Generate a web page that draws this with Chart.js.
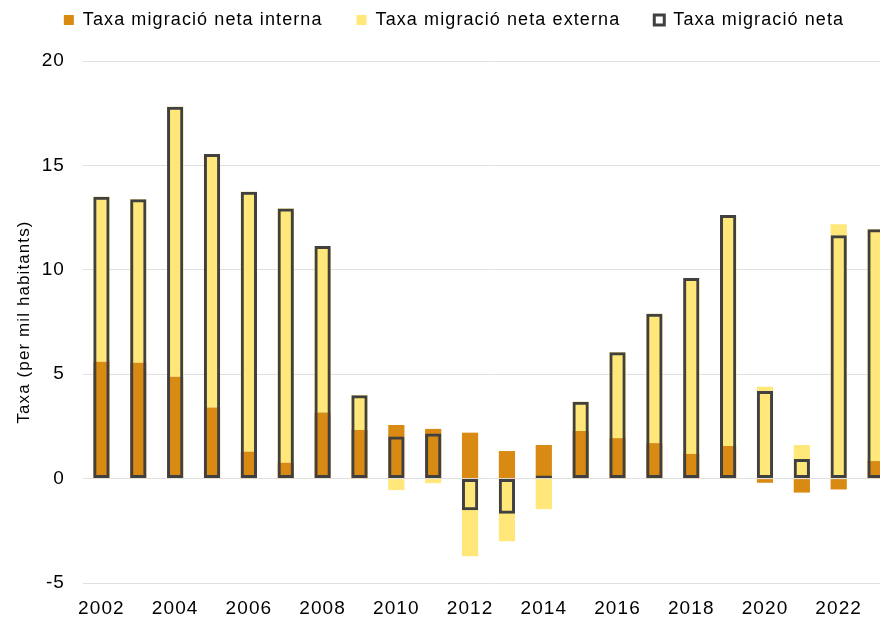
<!DOCTYPE html>
<html>
<head>
<meta charset="utf-8">
<script src="https://cdn.jsdelivr.net/npm/chart.js@4/dist/chart.umd.min.js"></script>
<style>
  html, body { margin: 0; padding: 0; background: #fff; overflow: hidden; }
  #wrap { width: 900px; height: 621px; }
</style>
</head>
<body>
<div id="wrap"><canvas id="myChart"></canvas></div>
<script>
const years = ["2002", "2003", "2004", "2005", "2006", "2007", "2008", "2009", "2010", "2011", "2012",
  "2013", "2014", "2015", "2016", "2017", "2018", "2019", "2020", "2021", "2022", "2023"];
const interna = [5.6, 5.55, 4.88, 3.41, 1.29, 0.76, 3.16, 2.33, 2.57, 2.38, 2.2,
  1.32, 1.61, 2.28, 1.94, 1.7, 1.18, 1.56, -0.2, -0.67, -0.52, 0.84];
const externa = [7.9, 7.83, 12.93, 12.14, 12.45, 12.18, 7.98, 1.66, -0.55, -0.22, -3.72,
  -3.0, -1.46, 1.4, 4.11, 6.2, 8.43, 11.06, 4.4, 1.61, 12.18, 11.1];
const neta = [13.5, 13.38, 17.81, 15.55, 13.74, 12.94, 11.14, 3.99, 2.02, 2.16, -1.52,
  -1.68, 0.15, 3.68, 6.05, 7.9, 9.61, 12.62, 4.2, 0.94, 11.66, 11.94];
const yTicks = [-5, 0, 5, 10, 15, 20];

// stack externa on interna only when both have the same sign (like Excel does)
const extBars = externa.map(function(v, i) {
  const base = Math.sign(v) === Math.sign(interna[i]) ? interna[i] : 0;
  return [base, base + v];
});

Chart.defaults.font.family = "'Liberation Sans', Arial, sans-serif";
Chart.defaults.color = "#000";

// the reference text is a bit wider than plain Arial
const spacing = {
  id: "spacing",
  beforeLayout(chart) { chart.ctx.letterSpacing = "1.1px"; },
  beforeDraw(chart) { chart.ctx.letterSpacing = "1.1px"; }
};

new Chart("myChart", {
  type: "bar",
  plugins: [spacing],
  data: {
    labels: years,
    datasets: [
      {
        label: "Taxa migració neta interna",
        data: interna,
        backgroundColor: "#D98A12",
        order: 1
      },
      {
        label: "Taxa migració neta externa",
        data: extBars,
        backgroundColor: "#FFE779",
        order: 2
      },
      {
        label: "Taxa migració neta",
        data: neta,
        backgroundColor: "rgba(0,0,0,0)",
        borderColor: "#404040",
        borderWidth: 3,
        borderSkipped: false,
        order: 0
      }
    ]
  },
  options: {
    responsive: true,
    maintainAspectRatio: false,
    animation: false,
    layout: { padding: { top: -23, right: 6, left: 14, bottom: 0 } },
    datasets: {
      bar: { grouped: false, barPercentage: 1, categoryPercentage: 0.44 }
    },
    plugins: {
      tooltip: { enabled: false },
      title: {
        // empty spacer between legend and plot
        display: true,
        text: "",
        weight: 500,
        font: { size: 10 },
        padding: { top: 5, bottom: 5 }
      },
      legend: {
        position: "top",
        labels: {
          boxWidth: 10,
          boxHeight: 10,
          padding: 34,
          font: { size: 18 },
          color: "#000",
          sort: (a, b) => a.datasetIndex - b.datasetIndex
        }
      }
    },
    scales: {
      x: {
        offset: true,
        grid: { display: false },
        border: { display: false },
        ticks: {
          autoSkip: false,
          maxRotation: 0,
          font: { size: 19 },
          color: "#000",
          padding: 6,
          callback: function(v, i) { return i % 2 === 0 ? years[i] : ""; }
        },
        afterFit: function(s) { s.height = 38; }
      },
      y: {
        min: -5,
        max: 20,
        afterBuildTicks: function(s) { s.ticks = yTicks.map(v => ({ value: v })); },
        grid: { color: "#e0e0e0", lineWidth: 1, drawTicks: false },
        border: { display: false },
        ticks: { font: { size: 19 }, color: "#000", padding: 18 },
        title: {
          display: true,
          text: "Taxa (per mil habitants)",
          font: { size: 17 },
          color: "#000",
          padding: { top: 0, bottom: 0 }
        },
        afterFit: function(s) { s.width = 69; }
      }
    }
  }
});
</script>
</body>
</html>
